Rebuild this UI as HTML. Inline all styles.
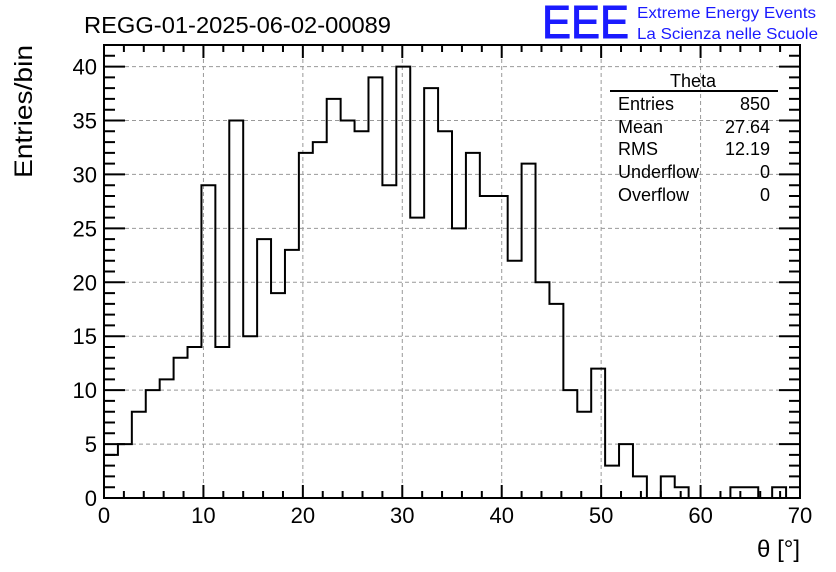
<!DOCTYPE html>
<html><head><meta charset="utf-8"><style>
body{margin:0;background:#fff;}
svg{display:block;font-family:"Liberation Sans",sans-serif;}
</style></head><body>
<svg id="chart" width="836" height="572" viewBox="0 0 836 572">
<rect width="836" height="572" fill="#fff"/>
<g id="grid"></g>
<g id="ticks"></g>
<path id="hist" fill="none" stroke="#000" stroke-width="2"/>
<rect x="104" y="45" width="696" height="453" fill="none" stroke="#000" stroke-width="2"/>
<g id="labels"></g>
<text x="84" y="33" font-size="23" textLength="307" lengthAdjust="spacingAndGlyphs">REGG-01-2025-06-02-00089</text>
<text x="542" y="38" font-size="46" fill="#1a1aff" stroke="#1a1aff" stroke-width="1" textLength="87" lengthAdjust="spacingAndGlyphs">EEE</text>
<text x="637" y="18" font-size="16" fill="#1a1aff" textLength="179" lengthAdjust="spacingAndGlyphs">Extreme Energy Events</text>
<text x="637" y="39" font-size="16" fill="#1a1aff" textLength="181" lengthAdjust="spacingAndGlyphs">La Scienza nelle Scuole</text>
<text transform="translate(32,178) rotate(-90)" font-size="25" textLength="133" lengthAdjust="spacingAndGlyphs">Entries/bin</text>
<text x="800" y="557" font-size="24" text-anchor="end">θ [°]</text>
<g>
<text x="693" y="87" font-size="18" text-anchor="middle">Theta</text>
<line x1="610" y1="91" x2="778" y2="91" stroke="#000" stroke-width="2"/>
<g font-size="18">
<text x="618" y="110">Entries</text><text x="770" y="110" text-anchor="end">850</text>
<text x="618" y="133">Mean</text><text x="770" y="133" text-anchor="end">27.64</text>
<text x="618" y="155">RMS</text><text x="770" y="155" text-anchor="end">12.19</text>
<text x="618" y="178">Underflow</text><text x="770" y="178" text-anchor="end">0</text>
<text x="618" y="201">Overflow</text><text x="770" y="201" text-anchor="end">0</text>
</g></g>
</svg>
<script>
const binCounts=[4,5,8,10,11,13,14,29,14,35,15,24,19,23,32,33,37,35,34,39,29,40,26,38,34,25,32,28,28,22,31,20,18,10,8,12,3,5,2,0,2,1,0,0,0,1,1,0,1,0];
const xTicks=[0,10,20,30,40,50,60,70];
const yTicks=[0,5,10,15,20,25,30,35,40];
const xMin=0,xMax=70,yMin=0,yMax=42;
const L=104,R=800,T=45,B=498;
const sx=v=>L+(v-xMin)/(xMax-xMin)*(R-L);
const sy=v=>B-(v-yMin)/(yMax-yMin)*(B-T);
const NS='http://www.w3.org/2000/svg';
function mk(tag,attrs,parent){const e=document.createElementNS(NS,tag);for(const k in attrs)e.setAttribute(k,attrs[k]);parent.appendChild(e);return e;}
const grid=document.getElementById('grid'),ticks=document.getElementById('ticks'),labels=document.getElementById('labels');
xTicks.forEach(t=>{
 if(t>xMin&&t<xMax){const g=mk('line',{x1:sx(t),x2:sx(t),y1:T,y2:B,stroke:'#999','stroke-dasharray':'4,3','stroke-width':1},grid);
 
 }
 const lb=mk('text',{x:sx(t),y:523,'font-size':22,'text-anchor':'middle'},labels);lb.textContent=t;
 
 
});
yTicks.forEach(t=>{
 if(t>yMin){const g=mk('line',{x1:L,x2:R,y1:sy(t),y2:sy(t),stroke:'#999','stroke-dasharray':'4,3','stroke-width':1},grid);
 
 }
 const lb=mk('text',{x:97,y:sy(t)+8,'font-size':22,'text-anchor':'end'},labels);lb.textContent=t;
 
 
});
let d='';
for(let v=xMin;v<=xMax;v+=2){const maj=v%10===0;const h=maj?13:7;
 d+=`M${sx(v)},${B}v${-h}M${sx(v)},${T}v${h}`;}
for(let v=yMin;v<=yMax;v+=1){const maj=v%5===0;const w=maj?21:11;
 d+=`M${L},${sy(v)}h${w}M${R},${sy(v)}h${-w}`;}
const tk=mk('path',{d:d,stroke:'#000','stroke-width':2,fill:'none'},ticks);


const bw=(xMax-xMin)/binCounts.length;
let p=`M${sx(xMin)},${sy(0)}`;
binCounts.forEach((c,i)=>{p+=`V${sy(c)}H${sx(xMin+(i+1)*bw)}`;});
p+=`V${sy(0)}`;
document.getElementById('hist').setAttribute('d',p);
</script>
</body></html>
